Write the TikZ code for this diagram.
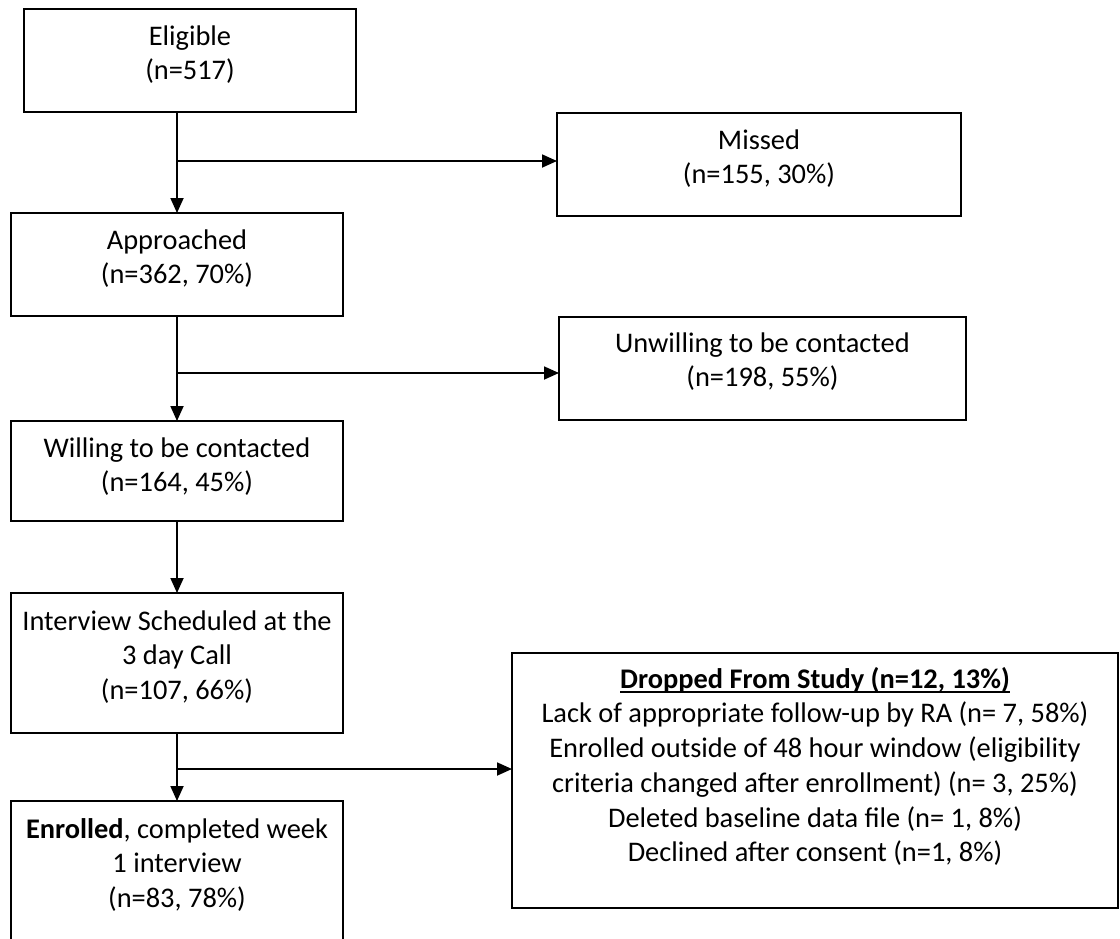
\documentclass[tikz,border=0pt]{standalone}
\usepackage{fontspec}
\setmainfont{Carlito}
\usetikzlibrary{arrows.meta}
\newcommand\fs{\rule{0pt}{24pt}}
\newsavebox\ulbox
\newcommand\myul[1]{\sbox\ulbox{#1}\rlap{\rule[-4.5pt]{\wd\ulbox}{2pt}}\usebox\ulbox}
\begin{document}
\begin{tikzpicture}[x=1pt,y=-1pt,
  box/.style={draw, line width=1.8pt, rectangle, inner sep=0pt, outer sep=0pt, anchor=north west},
  txt/.style={align=center, inner sep=0pt, anchor=north, font=\fontsize{28.4}{34.7}\selectfont},
  arr/.style={line width=1.8pt, -{Triangle[length=15pt,width=13pt]}},
  ln/.style={line width=1.8pt}]
\useasboundingbox (0,0) rectangle (1120,938);
\clip (0,0) rectangle (1120,938);
% boxes
\node[box, minimum width=332pt, minimum height=103pt] (elig) at (24,9) {};
\node[box, minimum width=404pt, minimum height=103pt] (missed) at (557,113) {};
\node[box, minimum width=332pt, minimum height=103pt] (appr) at (11,213) {};
\node[box, minimum width=407pt, minimum height=103pt] (unw) at (559,317) {};
\node[box, minimum width=332pt, minimum height=100pt] (will) at (11,421) {};
\node[box, minimum width=332pt, minimum height=140pt] (intv) at (11,593) {};
\node[box, minimum width=606pt, minimum height=255pt] (drop) at (512,653) {};
\node[box, minimum width=332pt, minimum height=170pt] (enr) at (11,801) {};
% texts
\node[txt] (eligt) at ([yshift=-12pt]elig.north) {\fs Eligible\\(n=517)};
\node[txt] (missedt) at ([yshift=-12pt]missed.north) {\fs Missed\\(n=155, 30\%)};
\node[txt] (apprt) at ([yshift=-12pt]appr.north) {\fs Approached\\(n=362, 70\%)};
\node[txt] (unwt) at ([yshift=-11pt]unw.north) {\fs Unwilling to be contacted\\(n=198, 55\%)};
\node[txt] (willt) at ([yshift=-12pt]will.north) {\fs Willing to be contacted\\(n=164, 45\%)};
\node[txt] (intvt) at ([yshift=-13pt]intv.north) {\fs Interview Scheduled at the\\3 day Call\\(n=107, 66\%)};
\node[txt] (enrt) at ([yshift=-13pt]enr.north) {\fs\textbf{Enrolled}, completed week\\1 interview\\(n=83, 78\%)};
\node[txt] (dropt) at ([yshift=-11pt]drop.north) {\fs\myul{\textbf{Dropped From Study (n=12, 13\%)}}\\Lack of appropriate follow-up by RA (n= 7, 58\%)\\Enrolled outside of 48 hour window (eligibility\\criteria changed after enrollment) (n= 3, 25\%)\\Deleted baseline data file (n= 1, 8\%)\\Declined after consent (n=1, 8\%)};
% junctions
\coordinate (j1) at (177,161);
\coordinate (j2) at (177,373);
\coordinate (j3) at (177,769);
% connectors
\draw[arr] (elig.south -| appr.north) -- (appr.north);
\draw[arr] (j1) -- (j1 -| missed.west);
\draw[arr] (appr.south) -- (will.north);
\draw[arr] (j2) -- (j2 -| unw.west);
\draw[arr] (will.south) -- (intv.north);
\draw[arr] (intv.south) -- (enr.north);
\draw[arr] (j3) -- (j3 -| drop.west);
\end{tikzpicture}
\end{document}
